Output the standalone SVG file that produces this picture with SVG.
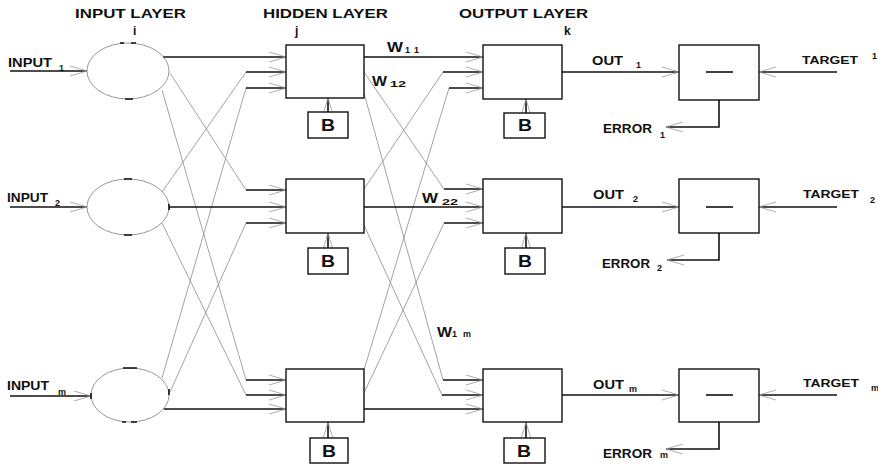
<svg xmlns="http://www.w3.org/2000/svg" width="878" height="464" viewBox="0 0 878 464">
<defs>
<style>
.box{fill:#fff;stroke:#111;stroke-width:1.4}
.ell{fill:none;stroke:#8c8c8c;stroke-width:0.9}
.wire{fill:none;stroke:#111;stroke-width:1.6}
.thin{fill:none;stroke:#8c8c8c;stroke-width:0.8}
.tick{stroke:#111;stroke-width:1.6}
text{font-family:"Liberation Sans",Arial,sans-serif;font-weight:bold;fill:#111}
.hd{font-size:12px}
.lb{font-size:12px}
.tg{font-size:11px}
.sb{font-size:9px}
.w{font-size:15px}
.b{font-size:16px}
</style>
<marker id="ah" viewBox="-20 -8 22 16" refX="0" refY="0" markerWidth="22" markerHeight="16" markerUnits="userSpaceOnUse" orient="auto">
<path d="M-17,-5 L0,0 M-17,5 L0,0" stroke="#9a9a9a" stroke-width="0.8" fill="none"/>
</marker>
</defs>
<rect width="878" height="464" fill="#fff"/>

<g id="headers">
<text class="hd" x="75" y="18" textLength="111" lengthAdjust="spacingAndGlyphs">INPUT LAYER</text>
<text class="hd" x="263" y="18" textLength="125" lengthAdjust="spacingAndGlyphs">HIDDEN LAYER</text>
<text class="hd" x="459" y="18" textLength="129" lengthAdjust="spacingAndGlyphs">OUTPUT LAYER</text>
<text class="lb" x="133" y="35">i</text>
<text class="lb" x="295" y="35">j</text>
<text class="lb" x="564" y="35">k</text>
</g>

<g id="connectors">
<path class="thin" d="M170,73 L246,190 M162,90 L246,380 M162,192 L246,72 M162,223 L246,395 M162,378 L246,88 M170,392 L246,223"/>
<path class="thin" d="M364,72 L444,189 M364,93 L443,380 M364,189 L443,72 M364,225 L442,395 M364,370 L449,88 M364,393 L444,223"/>
<g class="wire" marker-end="url(#ah)">
<path d="M10,71 H87"/><path d="M10,207 H87"/><path d="M10,396 H91"/>
<path d="M163,57 H286"/><path d="M169,207 H286"/><path d="M164,409 H286"/>
<path d="M246,72 H286"/><path d="M246,88 H286"/><path d="M246,190 H286"/><path d="M246,223 H286"/><path d="M246,380 H286"/><path d="M246,395 H286"/>
<path d="M364,57 H483"/><path d="M364,207 H483"/><path d="M364,409 H483"/>
<path d="M443,72 H483"/><path d="M449,88 H483"/><path d="M444,189 H483"/><path d="M444,223 H483"/><path d="M443,380 H483"/><path d="M442,395 H483"/>
<path d="M328,112 V98"/><path d="M328,248 V233"/><path d="M328,438 V422"/>
<path d="M526,113 V99"/><path d="M526,248 V233"/><path d="M526,438 V422"/>
<path d="M562,72 H679"/><path d="M562,207 H679"/><path d="M562,395 H679"/>
<path d="M837,72 H759"/><path d="M837,207 H759"/><path d="M837,395 H759"/>
<path d="M719,100 V127 H666"/><path d="M719,233 V260 H667"/><path d="M719,422 V449 H666"/>
</g>
</g>

<g id="input1">
<ellipse class="ell" cx="128" cy="71" rx="41" ry="28"/>
<path class="tick" d="M120,43 H124 M131,43 H136 M125,99 H133"/>
</g>
<g id="input2">
<ellipse class="ell" cx="128" cy="207" rx="41" ry="28"/>
<path class="tick" d="M124,179 H132 M124,235 H132 M169,204 V210"/>
</g>
<g id="input3">
<ellipse class="ell" cx="130" cy="395" rx="39" ry="27"/>
<path class="tick" d="M123,368 H137 M122,422 H126 M131,422 H137 M91,393 V399 M169,389 V395"/>
</g>

<g id="hidden1"><rect class="box" x="286" y="45" width="78" height="53"/></g>
<g id="hidden2"><rect class="box" x="286" y="179" width="78" height="54"/></g>
<g id="hidden3"><rect class="box" x="286" y="369" width="78" height="53"/></g>

<g id="output1"><rect class="box" x="483" y="45" width="79" height="54"/></g>
<g id="output2"><rect class="box" x="483" y="179" width="79" height="54"/></g>
<g id="output3"><rect class="box" x="483" y="369" width="79" height="53"/></g>

<g id="biasH1"><rect class="box" x="308" y="112" width="40" height="26"/><text class="b" x="321" y="131" textLength="14" lengthAdjust="spacingAndGlyphs">B</text></g>
<g id="biasH2"><rect class="box" x="308" y="248" width="40" height="26"/><text class="b" x="321" y="267" textLength="14" lengthAdjust="spacingAndGlyphs">B</text></g>
<g id="biasH3"><rect class="box" x="310" y="438" width="38" height="25"/><text class="b" x="322" y="457" textLength="14" lengthAdjust="spacingAndGlyphs">B</text></g>
<g id="biasO1"><rect class="box" x="504" y="113" width="41" height="25"/><text class="b" x="518" y="131" textLength="14" lengthAdjust="spacingAndGlyphs">B</text></g>
<g id="biasO2"><rect class="box" x="505" y="248" width="40" height="26"/><text class="b" x="518" y="267" textLength="14" lengthAdjust="spacingAndGlyphs">B</text></g>
<g id="biasO3"><rect class="box" x="504" y="438" width="41" height="25"/><text class="b" x="517" y="457" textLength="14" lengthAdjust="spacingAndGlyphs">B</text></g>

<g id="sub1"><rect class="box" x="679" y="45" width="80" height="55"/><path class="wire" d="M706,72 H733"/></g>
<g id="sub2"><rect class="box" x="679" y="179" width="80" height="54"/><path class="wire" d="M706,207 H733"/></g>
<g id="sub3"><rect class="box" x="679" y="369" width="80" height="53"/><path class="wire" d="M706,395 H733"/></g>

<g id="labels">
<text class="lb" x="8" y="67" textLength="44" lengthAdjust="spacingAndGlyphs">INPUT</text><text class="sb" x="59" y="71">1</text>
<text class="lb" x="7" y="202" textLength="41" lengthAdjust="spacingAndGlyphs">INPUT</text><text class="sb" x="55" y="206">2</text>
<text class="lb" x="7" y="390" textLength="42" lengthAdjust="spacingAndGlyphs">INPUT</text><text class="sb" x="58" y="395">m</text>

<text class="w" x="387" y="52" textLength="16" lengthAdjust="spacingAndGlyphs">W</text><text class="sb" x="405" y="53" textLength="14" lengthAdjust="spacing">11</text>
<text class="w" x="372" y="86" textLength="15" lengthAdjust="spacingAndGlyphs">W</text><text class="sb" x="390" y="87" textLength="16" lengthAdjust="spacingAndGlyphs">12</text>
<text class="w" x="422" y="203" textLength="16" lengthAdjust="spacingAndGlyphs">W</text><text class="sb" x="442" y="205" textLength="16" lengthAdjust="spacingAndGlyphs">22</text>
<text class="w" x="437" y="337" textLength="15" lengthAdjust="spacingAndGlyphs">W</text><text class="sb" x="452" y="337" textLength="19" lengthAdjust="spacing">1m</text>

<text class="lb" x="592" y="65" textLength="31" lengthAdjust="spacingAndGlyphs">OUT</text><text class="sb" x="636" y="68">1</text>
<text class="lb" x="593" y="199" textLength="31" lengthAdjust="spacingAndGlyphs">OUT</text><text class="sb" x="633" y="202">2</text>
<text class="lb" x="593" y="389" textLength="31" lengthAdjust="spacingAndGlyphs">OUT</text><text class="sb" x="629" y="392">m</text>

<text class="tg" x="802" y="64" textLength="56" lengthAdjust="spacingAndGlyphs">TARGET</text><text class="sb" x="872" y="59">1</text>
<text class="tg" x="803" y="198" textLength="56" lengthAdjust="spacingAndGlyphs">TARGET</text><text class="sb" x="870" y="203">2</text>
<text class="tg" x="803" y="387" textLength="56" lengthAdjust="spacingAndGlyphs">TARGET</text><text class="sb" x="871" y="391">m</text>

<text class="lb" x="603" y="133" textLength="49" lengthAdjust="spacingAndGlyphs">ERROR</text><text class="sb" x="660" y="138">1</text>
<text class="lb" x="602" y="268" textLength="48" lengthAdjust="spacingAndGlyphs">ERROR</text><text class="sb" x="657" y="271">2</text>
<text class="lb" x="603" y="458" textLength="49" lengthAdjust="spacingAndGlyphs">ERROR</text><text class="sb" x="660" y="458">m</text>
</g>
</svg>
